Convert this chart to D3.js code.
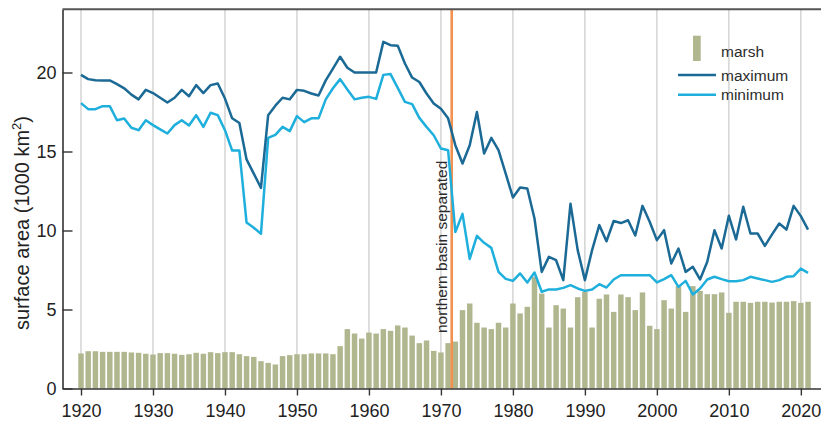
<!DOCTYPE html>
<html>
<head>
<meta charset="utf-8">
<script src="https://cdn.jsdelivr.net/npm/d3@7"></script>
<style>
  body { margin: 0; background: #fff; }
  svg { display: block; font-family: "Liberation Sans", Arial, sans-serif; }
</style>
</head>
<body>
<div id="chart"></div>
<script>
// data, one value per year 1920..2021 (1000 km2)
const years = d3.range(1920, 2022);

const maxArea = [
  19.85, 19.58, 19.51, 19.5, 19.5, 19.26, 19.0, 18.6, 18.3, 18.9,
  18.7, 18.4, 18.1, 18.4, 18.9, 18.5, 19.2, 18.7, 19.2, 19.3,
  18.35, 17.1, 16.8, 14.5, 13.6, 12.7, 17.3, 17.9, 18.4, 18.3,
  18.9, 18.84, 18.67, 18.54, 19.5, 20.25, 21.0, 20.3, 20.0, 20.0,
  20.0, 20.0, 21.94, 21.73, 21.7, 20.57, 19.68, 19.4, 18.67, 18.04,
  17.7, 17.1, 15.4, 14.24, 15.4, 17.5, 14.87, 15.86, 15.08, 13.6,
  12.09, 12.72, 12.66, 10.76, 7.38, 8.33, 8.12, 6.86, 11.7, 8.76,
  6.86, 8.76, 10.34, 9.32, 10.6, 10.47, 10.65, 9.68, 11.56, 10.55,
  9.39, 10.02, 7.91, 8.86, 7.38, 7.7, 6.9, 8.02, 10.02, 8.86,
  10.93, 9.43, 11.5, 9.81, 9.81, 9.03, 9.75, 10.44, 10.06, 11.56,
  10.91, 10.06
];

const minArea = [
  18.06, 17.68, 17.68, 17.87, 17.87, 16.98, 17.09, 16.5, 16.35, 16.98,
  16.67, 16.4, 16.14, 16.67, 16.98, 16.65, 17.3, 16.56, 17.45, 17.3,
  16.35, 15.06, 15.06, 10.5, 10.17, 9.8, 15.86, 16.05, 16.56, 16.29,
  17.24, 16.86, 17.1, 17.1, 18.3, 19.0, 19.58, 18.92, 18.3, 18.4,
  18.46, 18.33, 19.85, 19.9, 19.03, 18.14, 18.0, 17.13, 16.56, 16.03,
  15.19, 15.08, 9.9, 11.05, 8.2, 9.66, 9.22, 8.9, 7.38, 6.94,
  6.81, 7.28, 6.71, 7.34, 6.12, 6.27, 6.27, 6.37, 6.54, 6.33,
  6.18, 6.27, 6.6, 6.39, 6.9, 7.17, 7.17, 7.17, 7.17, 7.17,
  6.71, 6.92, 7.17, 6.43, 6.81, 5.95, 6.33, 6.9, 7.07, 6.92,
  6.79, 6.79, 6.86, 7.07, 6.96, 6.86, 6.75, 6.86, 7.07, 7.11,
  7.59, 7.32
];

const marsh = [
  2.22, 2.36, 2.36, 2.32, 2.32, 2.32, 2.32, 2.28, 2.26, 2.2,
  2.15, 2.24, 2.24, 2.2, 2.13, 2.17, 2.26, 2.2, 2.3, 2.24,
  2.3, 2.3, 2.17, 2.05, 2.0, 1.73, 1.62, 1.52, 2.05, 2.11,
  2.17, 2.17, 2.22, 2.22, 2.22, 2.17, 2.68, 3.76, 3.48, 3.16,
  3.54, 3.48, 3.76, 3.65, 3.99, 3.86, 3.35, 2.87, 3.04, 2.38,
  2.28, 2.87, 2.97, 4.96, 5.38, 4.16, 3.86, 3.76, 4.16, 3.86,
  5.38, 4.75, 5.17, 7.07, 6.01, 3.86, 5.27, 5.06, 3.86, 5.78,
  6.12, 3.86, 5.68, 5.95, 4.85, 5.95, 5.78, 4.96, 6.08, 3.97,
  3.76, 5.59, 5.06, 6.48, 4.85, 6.48, 6.18, 5.97, 5.97, 6.08,
  4.79, 5.49, 5.49, 5.42, 5.49, 5.49, 5.44, 5.49, 5.49, 5.53,
  5.42, 5.49
];

const xTicks = d3.range(1920, 2021, 10);
const yTicks = [0, 5, 10, 15, 20];
const separatedYear = 1971.5;

const W = 821, H = 423;
const colors = {
  marsh: '#b0b78f',
  maximum: '#1b6995',
  minimum: '#1eafdc',
  event: '#f2914f'
};

const svg = d3.select('#chart').append('svg')
    .attr('width', W)
    .attr('height', H);

const x = d3.scaleLinear()
    .domain([1917.43, 2022.8])
    .range([62.5, 821]);
const y = d3.scaleLinear()
    .domain([0, 24])
    .range([388.5, 9.3]);

// vertical grid at decades
svg.append('g')
    .selectAll('line')
    .data(xTicks)
    .enter()
    .append('line')
    .attr('x1', d => x(d))
    .attr('x2', d => x(d))
    .attr('y1', y(24))
    .attr('y2', y(0))
    .attr('stroke', '#c9c9c9')
    .attr('stroke-width', 1.2);

// marsh bars
const barW = (x(1921) - x(1920)) * 0.76;
svg.append('g')
    .selectAll('rect')
    .data(years)
    .enter()
    .append('rect')
    .attr('x', d => x(d) - barW / 2)
    .attr('y', (d, i) => y(marsh[i]))
    .attr('width', barW)
    .attr('height', (d, i) => y(0) - y(marsh[i]))
    .attr('fill', colors.marsh);

// northern basin separated
svg.append('line')
    .attr('x1', x(separatedYear))
    .attr('x2', x(separatedYear))
    .attr('y1', y(24))
    .attr('y2', y(0))
    .attr('stroke', colors.event)
    .attr('stroke-width', 2.6);

svg.append('text')
    .attr('transform', 'translate(446.5,333) rotate(-90)')
    .attr('font-size', 15.5)
    .attr('fill', '#2b2b2b')
    .text('northern basin separated');

const line = vals => d3.line()
    .x(d => x(d))
    .y((d, i) => y(vals[i]))(years);

svg.append('path')
    .attr('d', line(minArea))
    .attr('fill', 'none')
    .attr('stroke', colors.minimum)
    .attr('stroke-width', 2.5)
    .attr('stroke-linejoin', 'round');

svg.append('path')
    .attr('d', line(maxArea))
    .attr('fill', 'none')
    .attr('stroke', colors.maximum)
    .attr('stroke-width', 2.5)
    .attr('stroke-linejoin', 'round');

// axes
const xAxis = svg.append('g')
    .attr('transform', `translate(0,${y(0)})`)
    .call(d3.axisBottom(x).tickValues(xTicks).tickFormat(d3.format('d')).tickSize(7).tickSizeOuter(0).tickPadding(8.5));

const yAxis = svg.append('g')
    .attr('transform', `translate(${x.range()[0]},0)`)
    .call(d3.axisLeft(y).tickValues(yTicks).tickSize(-10).tickSizeOuter(0).tickPadding(6));

[xAxis, yAxis].forEach(g => {
    g.select('.domain').attr('stroke', '#333').attr('stroke-width', 1.6);
    g.selectAll('.tick line').attr('stroke', '#333').attr('stroke-width', 1.4);
    g.selectAll('.tick text')
        .attr('font-size', 18)
        .attr('font-family', '"Liberation Sans", Arial, sans-serif')
        .attr('fill', '#222');
});

// top frame line
svg.append('line')
    .attr('x1', x.range()[0])
    .attr('x2', W)
    .attr('y1', y(24))
    .attr('y2', y(24))
    .attr('stroke', '#555')
    .attr('stroke-width', 2);

// y label
const yLabel = svg.append('text')
    .attr('transform', 'translate(29,223) rotate(-90)')
    .attr('text-anchor', 'middle')
    .attr('font-size', 20)
    .attr('fill', '#222');
yLabel.append('tspan').text('surface area (1000 km');
yLabel.append('tspan').attr('font-size', 13).attr('dy', -8).text('2');
yLabel.append('tspan').attr('dy', 8).text(')');

// legend
const legend = svg.append('g').attr('class', 'legend');
legend.append('rect')
    .attr('x', 693)
    .attr('y', 35.7)
    .attr('width', 7.7)
    .attr('height', 25.3)
    .attr('fill', colors.marsh);
legend.append('line')
    .attr('x1', 678).attr('x2', 716)
    .attr('y1', 75).attr('y2', 75)
    .attr('stroke', colors.maximum)
    .attr('stroke-width', 2.5);
legend.append('line')
    .attr('x1', 678).attr('x2', 716)
    .attr('y1', 94.7).attr('y2', 94.7)
    .attr('stroke', colors.minimum)
    .attr('stroke-width', 2.5);
legend.selectAll('text')
    .data([['marsh', 56.5], ['maximum', 80.5], ['minimum', 100]])
    .enter()
    .append('text')
    .attr('x', 721)
    .attr('y', d => d[1])
    .attr('font-size', 15.5)
    .attr('fill', '#2b2b2b')
    .text(d => d[0]);
</script>
</body>
</html>
